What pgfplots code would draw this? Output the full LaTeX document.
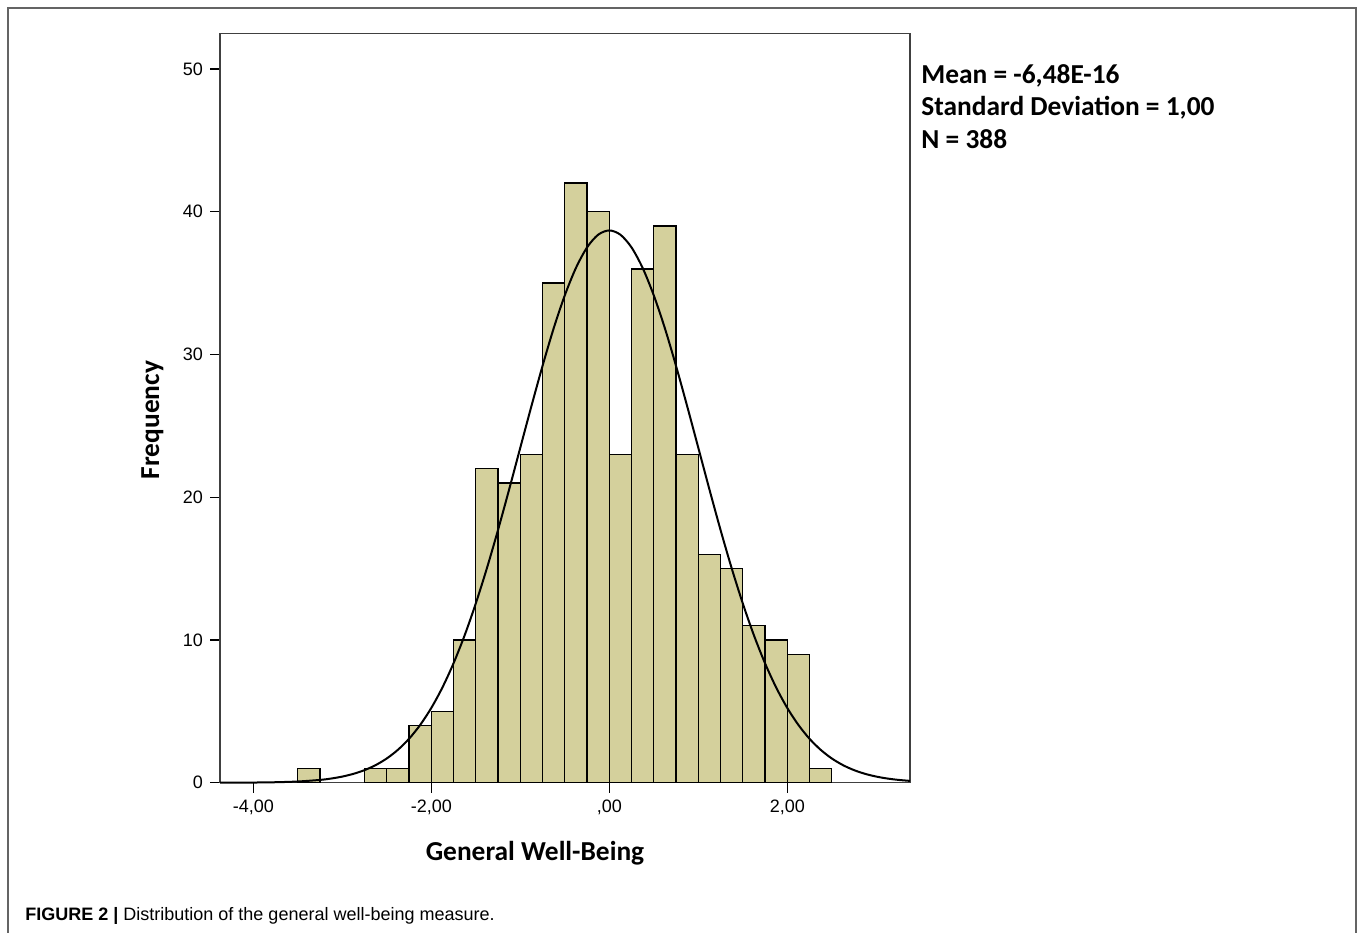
\documentclass[border=0pt]{standalone}
\usepackage{pgfplots}
\pgfplotsset{compat=1.18}
\usepackage{fontspec}
\setmainfont{Liberation Sans}
\newfontfamily\calibri{Carlito}
\definecolor{barcol}{RGB}{212,208,156}
\definecolor{framecol}{RGB}{100,100,100}
\begin{document}
\begin{tikzpicture}
\clip (0,0) rectangle (679pt,-466pt);
% outer figure frame
\draw[framecol, line width=1pt] (4pt,-480pt) -- (4pt,-4pt) -- (678pt,-4pt) -- (678pt,-480pt);
\begin{axis}[
  at={(110pt,-391.35pt)}, anchor=south west,
  scale only axis, width=345pt, height=374.7pt,
  xmin=-4.374, xmax=3.379, ymin=0, ymax=52.5,
  axis line style={black!75, line width=0.7pt},
  tick align=outside, tick pos=left, major tick length=5pt,
  tick style={black, line width=0.7pt},
  xtick={-4,-2,0,2}, xticklabels={{-4,00},{-2,00},{,00},{2,00}},
  ytick={0,10,20,30,40,50}, yticklabels={0,10,20,30,40,50},
  ticklabel style={font=\fontsize{9}{10}\selectfont},
  every axis x label/.style={at={(axis description cs:0.4565,0)}, anchor=base, yshift=-39pt},
  every axis y label/.style={at={(axis description cs:0,0.484)}, anchor=base, rotate=90, yshift=30.5pt},
  xlabel={\calibri\bfseries\fontsize{13.7}{15}\selectfont General Well-Being},
  ylabel={\calibri\bfseries\fontsize{13.7}{15}\selectfont Frequency},
  clip=false,
]
\addplot[ybar, bar width=0.25, bar shift=0pt, fill=barcol, draw=black, line width=0.7pt] coordinates {
(-3.375,1) (-2.625,1) (-2.375,1) (-2.125,4) (-1.875,5) (-1.625,10)
(-1.375,22) (-1.125,21) (-0.875,23) (-0.625,35) (-0.375,42) (-0.125,40)
(0.125,23) (0.375,36) (0.625,39) (0.875,23) (1.125,16) (1.375,15)
(1.625,11) (1.875,10) (2.125,9) (2.375,1)
};
\addplot[black, line width=1pt, smooth, mark=none] coordinates {
(-4.374,0.003) (-4.0,0.013) (-3.75,0.034) (-3.5,0.085) (-3.25,0.197) (-3.125,0.293)
(-3.0,0.430) (-2.875,0.621) (-2.75,0.882) (-2.625,1.234) (-2.5,1.700) (-2.375,2.306)
(-2.25,3.078) (-2.125,4.046) (-2.0,5.236) (-1.875,6.671) (-1.75,8.367) (-1.625,10.33)
(-1.5,12.56) (-1.375,15.03) (-1.25,17.71) (-1.125,20.55) (-1.0,23.47) (-0.875,26.38)
(-0.75,29.20) (-0.625,31.83) (-0.5,34.14) (-0.375,36.06) (-0.25,37.50) (-0.125,38.39)
(0,38.69)
(0.125,38.39) (0.25,37.50) (0.375,36.06) (0.5,34.14) (0.625,31.83) (0.75,29.20)
(0.875,26.38) (1.0,23.47) (1.125,20.55) (1.25,17.71) (1.375,15.03) (1.5,12.56)
(1.625,10.33) (1.75,8.367) (1.875,6.671) (2.0,5.236) (2.125,4.046) (2.25,3.078)
(2.375,2.306) (2.5,1.700) (2.625,1.234) (2.75,0.882) (2.875,0.621) (3.0,0.430)
(3.125,0.293) (3.25,0.197) (3.379,0.128)
};
\end{axis}
\begin{scope}[every node/.style={anchor=base west, inner sep=0pt, font=\calibri\bfseries\fontsize{13.7}{15}\selectfont}]
\node at (460.5pt,-41.65pt) {Mean = -6,48E-16};
\node at (460.5pt,-57.9pt) {Standard Deviation = 1,00};
\node at (460.5pt,-74.15pt) {N = 388};
\end{scope}
\node[anchor=base west, inner sep=0pt, font=\fontsize{9}{10}\selectfont] at (12.5pt,-460.3pt) {\textbf{FIGURE 2 |} Distribution of the general well-being measure.};
\end{tikzpicture}
\end{document}
